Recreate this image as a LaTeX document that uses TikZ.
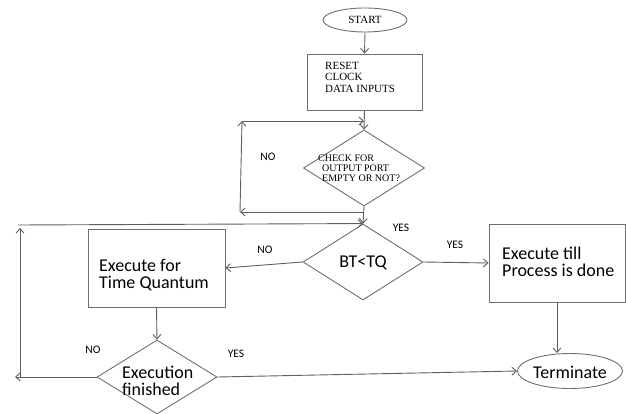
\documentclass[tikz,border=0pt]{standalone}
\usepackage{fontspec}
\setmainfont{Liberation Serif}
\newfontfamily\calib{Carlito}
\usetikzlibrary{shapes.geometric,arrows.meta}
\definecolor{ln}{RGB}{95,95,95}
\definecolor{bd}{RGB}{110,110,110}
\tikzset{
  arr/.style={draw=ln, line width=0.9pt, -{Straight Barb[length=4.5pt,width=8pt]}},
  plain/.style={draw=ln, line width=0.9pt},
  shp/.style={draw=bd, line width=0.9pt, inner sep=0pt},
  boxs/.style={shp, rectangle},
  dia/.style={shp, diamond},
  ell/.style={shp, ellipse},
  big/.style={font=\calib\fontsize{18}{17}\selectfont, align=left, inner sep=0pt},
  serif/.style={font=\fontsize{11}{13}\selectfont, align=left, inner sep=0pt},
  lab/.style={font=\calib\fontsize{11.5}{13}\selectfont, inner sep=0pt}
}
\begin{document}
\begin{tikzpicture}[x=1pt,y=-1pt]
\useasboundingbox (0,0) rectangle (626,414);
% shapes
\node[ell, minimum width=84pt, minimum height=24pt] (start) at (365,20) {};
\node[serif] (starttext) at (365,20) {START};
\node[boxs, minimum width=115pt, minimum height=56pt] (reset) at (364.5,82) {};
\node[serif, anchor=west] (resettext) at (325,77) {RESET\\[-1.5pt]CLOCK\\[-1.5pt]DATA INPUTS};
\node[dia, minimum width=121pt, minimum height=76pt] (check) at (364,168) {};
\node[serif, font=\fontsize{10}{10}\selectfont, anchor=west] (checktext) at (318,168) {CHECK FOR\\\hspace*{4pt}OUTPUT PORT\\\hspace*{4pt}EMPTY OR NOT?};
\node[dia, minimum width=120pt, minimum height=76pt] (bt) at (363,262) {};
\node[big] (bttext) at (363,263) {BT<TQ};
\node[boxs, minimum width=137pt, minimum height=78pt] (etq) at (156.5,268) {};
\node[big, anchor=west] (etqtext) at (99,275) {Execute for\\Time Quantum};
\node[boxs, minimum width=136pt, minimum height=78pt] (etill) at (557,263) {};
\node[big, anchor=west] (etilltext) at (502,262) {Execute till\\Process is done};
\node[dia, minimum width=120pt, minimum height=74pt] (ef) at (157,377) {};
\node[big, anchor=west] (eftext) at (122,381) {Execution\\finished};
\node[ell, minimum width=105pt, minimum height=35pt] (term) at (570,371) {};
\node[big] (termtext) at (570,372) {Terminate};
% coordinates for loops
\coordinate (c1) at (363,212);
\coordinate (c2) at (240,212);
\coordinate (c3) at (242,121);
\coordinate (c4) at (15,377);
\coordinate (c5) at (20,377);
\coordinate (c6) at (20,228);
\coordinate (c7) at (18,225);
% connectors
\draw[arr] (start.south) -- (reset.north);
\draw[arr] (reset.south) -- (check.north);
\draw[arr] (check.south) -- (bt.north);
\draw[arr] (c1) -- (c2);
\draw[arr] (c2) -- (c3);
\draw[arr] (c3) -- (c3 -| check.north);
\draw[arr] (bt.west) -- (etq.east);
\draw[arr] (bt.east) -- (etill.west);
\draw[arr] (etq.south) -- (ef.north);
\draw[arr] (ef.east) -- (term.west);
\draw[arr] (etill.south) -- (etill.south |- term.north);
\draw[arr] (ef.west) -- (c4);
\draw[arr] (c5) -- (c6);
\draw[arr] (c7) -- (bt.north);
% labels
\node[lab] (l1) at (268,157) {NO};
\node[lab] (l2) at (401,228) {YES};
\node[lab] (l3) at (265,250) {NO};
\node[lab] (l4) at (455,245) {YES};
\node[lab] (l5) at (93,350) {NO};
\node[lab] (l6) at (236,354) {YES};
\end{tikzpicture}
\end{document}
